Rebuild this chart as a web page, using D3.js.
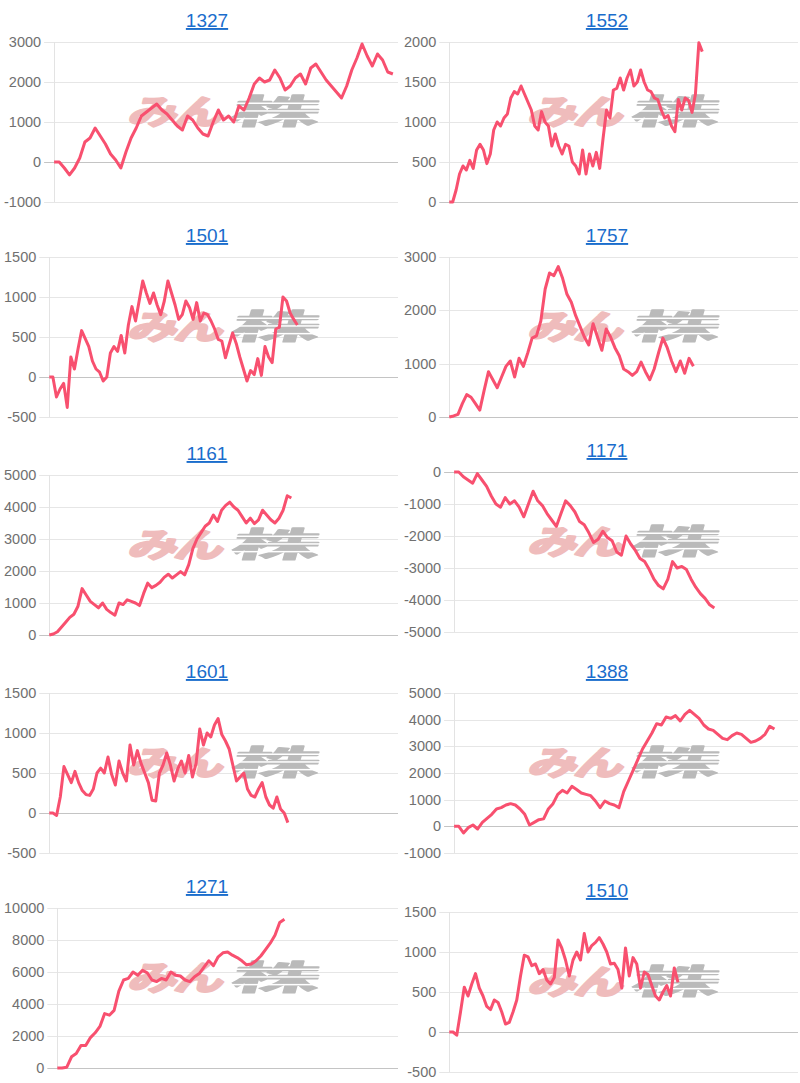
<!DOCTYPE html>
<html><head><meta charset="utf-8">
<script src="https://cdn.jsdelivr.net/npm/d3@7/dist/d3.min.js"></script>
<style>body{margin:0;background:#fff;} svg{display:block}</style>
</head><body><svg id="c" width="800" height="1083"></svg>
<script>
// ---- data ----
const titles = ["1327","1552","1501","1757","1161","1171","1601","1388","1271","1510"];
const labelCounts = [68,103,98,81,86,75,96,74,73,94];

const s1327 = [0,0,-150,-320,-150,100,500,600,850,650,450,200,50,-150,250,600,850,1150,1250,1350,1450,1300,1200,1050,900,800,1150,1050,850,700,650,1000,1300,1050,1150,1000,1400,1300,1600,1950,2100,2000,2050,2300,2100,1800,1900,2100,2200,1950,2350,2450,2250,2050,1900,1750,1600,1900,2300,2600,2950,2650,2400,2700,2550,2250,2200];
const s1552 = [0,0,150,350,450,400,520,420,650,720,650,480,600,900,1000,950,1050,1100,1300,1380,1350,1450,1350,1250,1150,950,900,1130,1000,950,700,850,700,600,720,700,500,450,350,650,350,600,450,620,420,800,1150,1050,1400,1420,1550,1400,1550,1650,1450,1500,1650,1500,1400,1380,1300,1280,1150,1050,1080,950,880,1280,1150,1300,1270,1120,1350,1990,1880];
const s1501 = [0,0,-250,-150,-80,-380,250,100,350,580,480,380,200,100,60,-50,0,300,380,320,520,300,650,880,700,950,1200,1050,920,1050,900,780,950,1200,1050,900,720,780,950,870,720,930,700,800,780,700,600,470,450,240,400,550,420,250,100,-50,80,30,230,20,380,250,180,600,620,1000,950,800,720,650];
const s1757 = [0,20,50,250,420,370,250,130,500,850,700,550,750,950,1050,750,1100,950,1200,1480,1520,1800,2400,2700,2650,2820,2600,2300,2150,1900,1700,1500,1350,1750,1500,1250,1650,1500,1300,1150,900,850,780,850,1030,850,700,900,1200,1480,1300,1050,850,1050,820,1100,950];
const s1161 = [0,30,100,250,400,550,650,900,1450,1250,1050,950,850,1000,800,700,620,1000,950,1100,1050,1000,920,1300,1620,1480,1550,1650,1800,1900,1780,1880,1980,1880,2200,2700,3000,3200,3400,3500,3750,3550,3900,4050,4150,4000,3900,3700,3500,3650,3480,3600,3900,3750,3600,3500,3650,3900,4350,4280];
const s1171 = [0,0,-150,-250,-350,-50,-250,-450,-750,-1000,-1100,-800,-1000,-900,-1100,-1400,-1000,-600,-900,-1050,-1300,-1500,-1700,-1300,-900,-1050,-1250,-1550,-1650,-1900,-2200,-2100,-1850,-2050,-2150,-2500,-2600,-2000,-2250,-2450,-2700,-2800,-3050,-3350,-3550,-3650,-3350,-2800,-3000,-2950,-3050,-3350,-3600,-3800,-3950,-4150,-4250];
const s1601 = [0,0,-30,200,580,480,380,520,380,280,230,220,300,500,560,500,700,480,350,650,500,400,850,600,780,620,500,380,160,150,500,600,750,600,400,550,650,500,720,450,620,1050,850,1000,950,1100,1180,980,900,800,600,400,450,500,300,220,200,300,380,200,100,60,200,50,0,-120];
const s1388 = [0,0,-250,-50,50,-100,150,300,450,650,700,800,850,800,650,450,50,150,250,280,650,850,1200,1350,1250,1500,1380,1250,1200,1150,950,700,950,850,800,700,1300,1700,2100,2500,2900,3200,3500,3850,3800,4100,4050,4150,3950,4200,4350,4200,4050,3800,3650,3600,3450,3300,3250,3400,3500,3450,3300,3150,3200,3300,3450,3750,3650];
const s1271 = [0,0,50,700,900,1400,1400,1900,2200,2600,3400,3300,3600,4800,5500,5600,6000,5800,6100,5950,5500,5400,5600,5500,6000,5800,5750,5500,5400,5700,5900,6300,6700,6400,6950,7200,7250,7050,6900,6700,6450,6500,6700,7000,7400,7800,8300,9100,9300];
const s1510 = [0,0,-40,250,560,450,600,730,550,450,320,280,400,370,250,100,120,250,400,700,960,940,830,850,730,780,650,600,680,1150,1050,900,700,900,1000,900,1230,1000,1080,1120,1180,1100,1000,850,860,780,550,1050,700,930,850,550,750,720,580,450,400,500,580,450,800,620];

const t1327 = [-1000,0,1000,2000,3000];
const t1552 = [0,500,1000,1500,2000];
const t1501 = [-500,0,500,1000,1500];
const t1757 = [0,1000,2000,3000];
const t1161 = [0,1000,2000,3000,4000,5000];
const t1171 = [-5000,-4000,-3000,-2000,-1000,0];
const t1601 = [-500,0,500,1000,1500];
const t1388 = [-1000,0,1000,2000,3000,4000,5000];
const t1271 = [0,2000,4000,6000,8000,10000];
const t1510 = [-500,0,500,1000,1500];

const seriesList = [s1327,s1552,s1501,s1757,s1161,s1171,s1601,s1388,s1271,s1510];
const tickList = [t1327,t1552,t1501,t1757,t1161,t1171,t1601,t1388,t1271,t1510];

// ---- layout ----
const plotTops = [42,42,257,257,475,472,693,693,908,912];
const plotH = 160;
const lineColor = "#f8506f";
const fontTick = "14.5px 'Liberation Sans', Arial, sans-serif";

const svg = d3.select("#c");

const meas = svg.append("text").style("font", fontTick).attr("visibility","hidden");
function textW(s){ meas.text(s); return meas.node().getComputedTextLength(); }

titles.forEach((title, i) => {
  const col = i % 2;
  const panelX = col * 400;
  const top = plotTops[i];
  const bottom = top + plotH;
  const ticks = tickList[i];
  const data = seriesList[i];
  const maxW = d3.max(ticks, t => textW(String(t)));
  const axisX = panelX + 4 + maxW + 13;
  const right = panelX + 398;

  const y = d3.scaleLinear().domain(d3.extent(ticks)).range([bottom, top]);
  const x = d3.scalePoint().domain(d3.range(labelCounts[i])).range([axisX, right]);

  const g = svg.append("g");

  g.selectAll("line.grid").data(ticks).join("line")
    .attr("x1", axisX - 10).attr("x2", right)
    .attr("y1", d => Math.round(y(d)) + 0.5).attr("y2", d => Math.round(y(d)) + 0.5)
    .attr("stroke", d => d === 0 ? "#c4c4c4" : "#e6e6e6").attr("stroke-width", 1);
  g.append("line").attr("x1", Math.round(axisX)+0.5).attr("x2", Math.round(axisX)+0.5)
    .attr("y1", top).attr("y2", bottom).attr("stroke", "#e3e3e3");

  g.selectAll("text.tick").data(ticks).join("text")
    .attr("x", axisX - 13).attr("y", d => y(d))
    .attr("text-anchor", "end").attr("dominant-baseline", "central")
    .style("font", fontTick).attr("fill", "#707070")
    .text(d => d);

  // watermark
  const wy = top + 82;
  g.append("text")
    .attr("transform", `translate(${panelX + 127},${wy}) skewX(-16) scale(1.4,0.95)`)
    .style("font-family", "'Noto Sans CJK JP', sans-serif").style("font-weight", 700)
    .style("font-size", "35px").attr("fill", "#efbcbc")
    .attr("stroke", "#efbcbc").attr("stroke-width", 2.6).attr("stroke-linejoin", "round")
    .attr("letter-spacing", "-2").text("みん");
  g.append("text")
    .attr("transform", `translate(${panelX + 229},${wy}) skewX(-16) scale(2.45,0.95)`)
    .style("font-family", "'Noto Sans CJK JP', sans-serif").style("font-weight", 700)
    .style("font-size", "36px").attr("fill", "#bababa")
    .attr("stroke", "#bababa").attr("stroke-width", 1.2).attr("stroke-linejoin", "round")
    .text("株");
  [0.3, 0.52, 0.74].forEach(f => {
    g.append("rect").attr("x", panelX + 226).attr("y", top + 50 + f * 35)
      .attr("width", 100).attr("height", 1.5).attr("fill", "#fff");
  });

  const line = d3.line().x((d, k) => x(k)).y(d => y(d));
  g.append("path").datum(data).attr("d", line)
    .attr("fill", "none").attr("stroke", lineColor).attr("stroke-width", 3)
    .attr("stroke-linejoin", "round").attr("stroke-linecap", "butt");

  svg.append("text")
    .attr("x", panelX + 207).attr("y", top - 15)
    .attr("text-anchor", "middle")
    .style("font", "19px 'Liberation Sans', Arial, sans-serif")
    .style("text-decoration", "underline")
    .attr("fill", "#1a6dcc").text(title);
});
meas.remove();
</script></body></html>
